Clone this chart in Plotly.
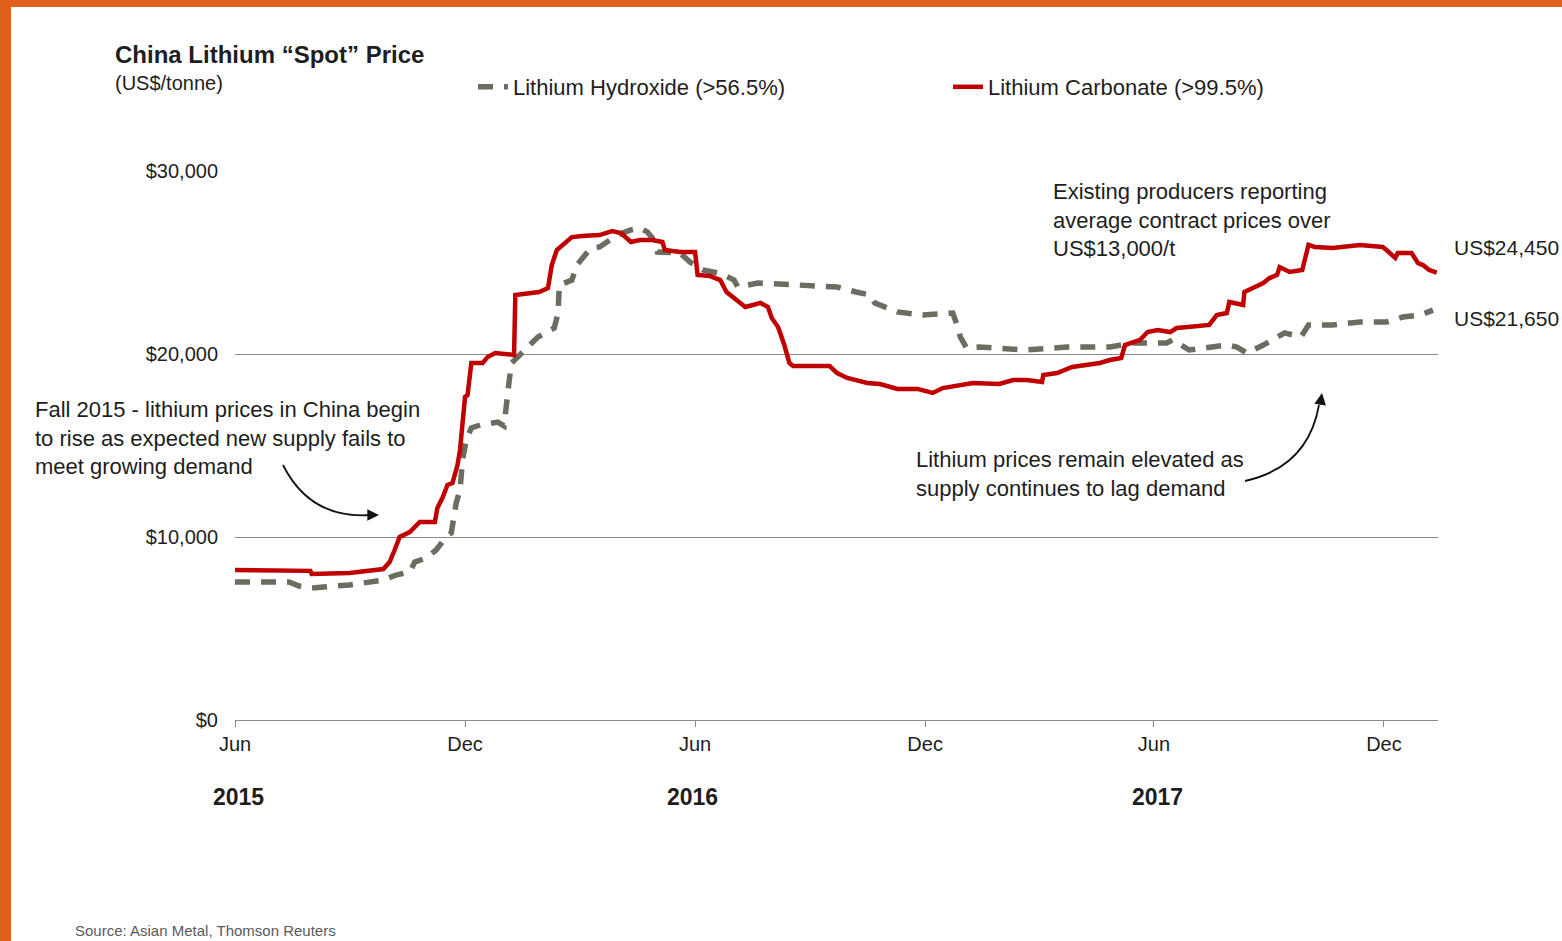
import plotly.graph_objects as go

# ---------------- data ----------------
carb_dates = [
    "2015-06-01", "2015-06-29", "2015-07-31", "2015-08-01", "2015-08-31", "2015-09-27",
    "2015-10-02", "2015-10-06", "2015-10-10", "2015-10-18", "2015-10-26", "2015-11-07",
    "2015-11-09", "2015-11-13", "2015-11-17", "2015-11-21", "2015-11-25", "2015-11-27",
    "2015-11-29", "2015-12-01", "2015-12-03", "2015-12-06", "2015-12-15", "2015-12-19",
    "2015-12-25", "2016-01-06", "2016-01-09", "2016-01-10", "2016-01-19", "2016-01-29",
    "2016-02-05", "2016-02-08", "2016-02-12", "2016-02-18", "2016-02-24", "2016-03-03",
    "2016-03-17", "2016-03-27", "2016-04-03", "2016-04-11", "2016-04-18", "2016-04-28",
    "2016-05-06", "2016-05-08", "2016-05-20", "2016-06-01", "2016-06-03", "2016-06-13",
    "2016-06-21", "2016-06-26", "2016-07-07", "2016-07-11", "2016-07-17", "2016-07-23",
    "2016-07-29", "2016-08-01", "2016-08-06", "2016-08-11", "2016-08-15", "2016-08-18",
    "2016-09-16", "2016-09-22", "2016-09-30", "2016-10-16", "2016-10-26", "2016-11-09",
    "2016-11-25", "2016-12-07", "2016-12-15", "2016-12-27", "2017-01-08", "2017-01-29",
    "2017-02-09", "2017-02-20", "2017-03-04", "2017-03-05", "2017-03-16", "2017-03-28",
    "2017-04-08", "2017-04-19", "2017-04-27", "2017-05-06", "2017-05-09", "2017-05-15",
    "2017-05-21", "2017-05-27", "2017-06-04", "2017-06-14", "2017-06-19", "2017-06-28",
    "2017-07-10", "2017-07-15", "2017-07-21", "2017-07-29", "2017-07-31", "2017-08-11",
    "2017-08-12", "2017-08-27", "2017-09-01", "2017-09-07", "2017-09-09", "2017-09-13",
    "2017-09-17", "2017-09-27", "2017-10-02", "2017-10-07", "2017-10-21", "2017-11-12",
    "2017-11-30", "2017-12-03", "2017-12-10", "2017-12-12", "2017-12-23", "2017-12-28",
    "2018-01-01", "2018-01-06", "2018-01-12",
]
carb_values = [
    8200, 8150, 8150, 7980, 8030, 8250,
    8630, 9290, 10000, 10270, 10820, 10820,
    11590, 12130, 12840, 12950, 13930, 14750,
    16230, 17650, 17760, 19510, 19510, 19840,
    20050, 19950, 19950, 23220, 23330, 23390,
    23610, 24860, 25680, 26070, 26390, 26450,
    26500, 26720, 26610, 26120, 26230, 26230,
    26120, 25680, 25570, 25570, 24320, 24260,
    24040, 23390, 22840, 22570, 22680, 22790,
    22570, 21970, 21480, 20490, 19510, 19340,
    19340, 18960, 18690, 18420, 18360, 18090,
    18090, 17870, 18140, 18250, 18420, 18360,
    18580, 18580, 18470, 18850, 18960, 19290,
    19400, 19510, 19670, 19780, 20490, 20600,
    20770, 21200, 21310, 21200, 21420, 21480,
    21590, 21590, 22130, 22240, 22840, 22680,
    23390, 23880, 24150, 24320, 24750, 24590,
    24480, 24590, 25960, 25850, 25790, 25960,
    25850, 25680, 25250, 25520, 25520, 24970,
    24860, 24590, 24450,
]

hydr_dates = [
    "2015-06-01", "2015-07-14", "2015-07-22", "2015-07-31", "2015-08-31", "2015-09-16",
    "2015-09-27", "2015-10-07", "2015-10-18", "2015-10-22", "2015-10-31", "2015-11-08",
    "2015-11-16", "2015-11-20", "2015-11-24", "2015-11-27", "2015-11-29", "2015-12-02",
    "2015-12-06", "2015-12-13", "2015-12-27", "2016-01-01", "2016-01-03", "2016-01-05",
    "2016-01-07", "2016-01-20", "2016-01-28", "2016-02-10", "2016-02-13", "2016-02-14",
    "2016-02-24", "2016-02-28", "2016-03-04", "2016-03-10", "2016-03-17", "2016-03-31",
    "2016-04-11", "2016-04-18", "2016-04-24", "2016-04-28", "2016-05-02", "2016-05-20",
    "2016-05-28", "2016-06-07", "2016-06-19", "2016-06-24", "2016-07-02", "2016-07-05",
    "2016-07-21", "2016-08-15", "2016-09-22", "2016-10-07", "2016-10-18", "2016-10-22",
    "2016-11-09", "2016-11-29", "2016-12-23", "2016-12-27", "2016-12-29", "2017-01-03",
    "2017-01-13", "2017-02-20", "2017-03-24", "2017-04-27", "2017-05-15", "2017-06-11",
    "2017-06-16", "2017-06-29", "2017-07-13", "2017-07-29", "2017-08-06", "2017-08-14",
    "2017-08-27", "2017-09-07", "2017-09-13", "2017-09-26", "2017-10-02", "2017-10-21",
    "2017-11-12", "2017-12-03", "2017-12-16", "2017-12-30", "2018-01-09",
]
hydr_values = [
    7540, 7540, 7320, 7210, 7380, 7540,
    7650, 7920, 8090, 8630, 8850, 9290,
    10000, 10220, 11860, 12570, 14210, 15300,
    15960, 16120, 16280, 16070, 17490, 18470,
    19510, 20380, 20930, 21420, 22240, 23770,
    24040, 24860, 25300, 25790, 25850, 26500,
    26780, 26890, 26670, 26340, 25570, 25520,
    25030, 24590, 24430, 24320, 24040, 23660,
    23880, 23770, 23660, 23390, 23220, 22790,
    22300, 22130, 22240, 21480, 20930, 20330,
    20380, 20220, 20380, 20380, 20600, 20600,
    20770, 20220, 20330, 20490, 20380, 20050,
    20490, 20930, 21150, 20930, 21590, 21590,
    21750, 21750, 22020, 22130, 22400,
]

series_names = ["Lithium Hydroxide (>56.5%)", "Lithium Carbonate (>99.5%)"]

tick_dates = ["2015-06-01", "2015-12-01", "2016-06-01", "2016-12-01", "2017-06-01", "2017-12-01"]
tick_labels = ["Jun", "Dec", "Jun", "Dec", "Jun", "Dec"]
year_dates = ["2015-06-04", "2016-05-30", "2017-06-04"]
year_labels = ["2015", "2016", "2017"]
y_ticks = [0, 10000, 20000, 30000]
y_tick_labels = ["$0", "$10,000", "$20,000", "$30,000"]

# ---------------- layout geometry ----------------
W, H = 1562, 941
L, R, T, B = 235, 1438, 171, 720   # plot area in pixels


def px(x):
    return (x - L) / (R - L)


def py(y):
    return (B - y) / (B - T)


FONT = "Liberation Sans, Arial, sans-serif"
TXT = "#1e1e1e"
RED = "#c00000"
GREY = "#6c6c60"

fig = go.Figure()
fig.add_trace(go.Scatter(
    x=hydr_dates, y=hydr_values, mode="lines", name=series_names[0],
    line=dict(color=GREY, width=5.5, dash="15px,11px"), legend="legend",
))
fig.add_trace(go.Scatter(
    x=carb_dates, y=carb_values, mode="lines", name=series_names[1],
    line=dict(color=RED, width=4.5), legend="legend2",
))

annotations = [
    dict(text="<b>China Lithium “Spot” Price</b>", x=px(113), y=py(55), font=dict(size=24, color=TXT)),
    dict(text="(US$/tonne)", x=px(113), y=py(83), font=dict(size=20, color=TXT)),
    dict(text="Fall 2015 - lithium prices in China begin<br>to rise as expected new supply fails to<br>meet growing demand",
         x=px(33), y=py(438), font=dict(size=22, color=TXT)),
    dict(text="Existing producers reporting<br>average contract prices over<br>US$13,000/t",
         x=px(1051), y=py(220), font=dict(size=22, color=TXT)),
    dict(text="Lithium prices remain elevated as<br>supply continues to lag demand",
         x=px(914), y=py(474), font=dict(size=22, color=TXT)),
    dict(text="US$24,450", x=px(1452), y=py(247), font=dict(size=21, color=TXT)),
    dict(text="US$21,650", x=px(1452), y=py(318), font=dict(size=21, color=TXT)),
    dict(text="Source: Asian Metal, Thomson Reuters", x=px(73), y=py(930), font=dict(size=15, color="#5a5a5a")),
]
for a in annotations:
    a.update(xref="paper", yref="paper", xanchor="left", yanchor="middle", align="left", showarrow=False)

for d, lab in zip(year_dates, year_labels):
    annotations.append(dict(text=f"<b>{lab}</b>", x=d, xref="x", y=py(797), yref="paper",
                            xanchor="center", yanchor="middle", showarrow=False,
                            font=dict(size=23, color=TXT)))

# arrowheads of the curved arrows
annotations.append(dict(text="", x=px(379), y=py(515), xref="paper", yref="paper", showarrow=True,
                        ax=-13, ay=0, arrowhead=2, arrowsize=1.3, arrowwidth=1.8, arrowcolor="#111"))
annotations.append(dict(text="", x=px(1322), y=py(393), xref="paper", yref="paper", showarrow=True,
                        ax=-2, ay=13, arrowhead=2, arrowsize=1.3, arrowwidth=1.8, arrowcolor="#111"))

shapes = [
    # orange frame
    dict(type="rect", xref="paper", yref="paper", x0=px(0), x1=px(11), y0=py(W), y1=py(0),
         fillcolor="#df5f1d", line=dict(width=0)),
    dict(type="rect", xref="paper", yref="paper", x0=px(0), x1=px(W), y0=py(7), y1=py(0),
         fillcolor="#df5f1d", line=dict(width=0)),
    # curved arrow bodies
    dict(type="path", xref="paper", yref="paper",
         path=f"M {px(283)},{py(465)} Q {px(310)},{py(519)} {px(370)},{py(515)}",
         line=dict(color="#111", width=1.8)),
    dict(type="path", xref="paper", yref="paper",
         path=f"M {px(1245)},{py(481)} Q {px(1308)},{py(467)} {px(1319)},{py(405)}",
         line=dict(color="#111", width=1.8)),
]

fig.update_layout(
    width=W, height=H,
    margin=dict(l=L, r=W - R, t=T, b=H - B, pad=0),
    paper_bgcolor="white", plot_bgcolor="white",
    font=dict(family=FONT, color=TXT, size=20),
    annotations=annotations, shapes=shapes,
    legend=dict(x=px(473), y=py(87), xanchor="left", yanchor="middle", orientation="h",
                font=dict(size=22, color=TXT), bgcolor="rgba(0,0,0,0)"),
    legend2=dict(x=px(948), y=py(87), xanchor="left", yanchor="middle", orientation="h",
                 font=dict(size=22, color=TXT), bgcolor="rgba(0,0,0,0)"),
    showlegend=True,
)
fig.update_xaxes(
    type="date", range=["2015-06-01", "2018-01-13"],
    tickmode="array", tickvals=tick_dates, ticktext=tick_labels,
    showgrid=False, zeroline=False, showline=True, linecolor="#8a8a8a", linewidth=1,
    ticks="outside", ticklen=6, tickcolor="#8a8a8a", tickfont=dict(size=20, color=TXT),
    ticklabelstandoff=0,
)
fig.update_yaxes(
    range=[0, 30000], tickmode="array", tickvals=y_ticks, ticktext=y_tick_labels,
    showgrid=True, gridcolor="#8a8a8a", gridwidth=1, zeroline=False, showline=False,
    ticks="", tickfont=dict(size=20, color=TXT), ticklabelstandoff=16,
)

fig.write_html("out.html", config={"displayModeBar": False},
               post_script="document.body.style.margin='0';")
